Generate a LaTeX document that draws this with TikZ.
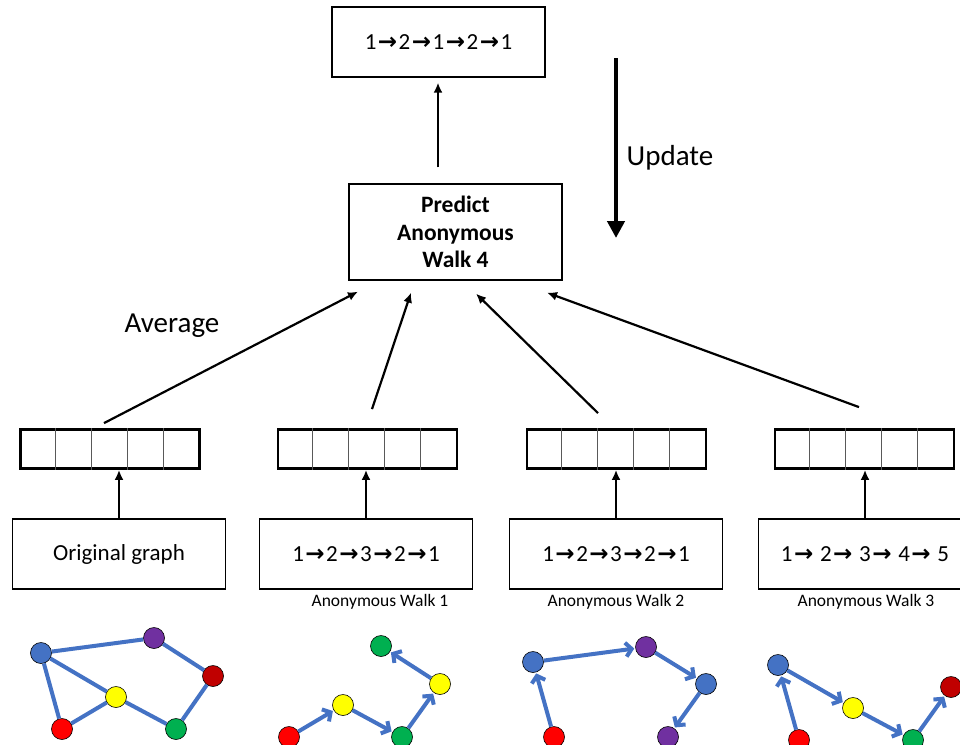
\documentclass[tikz,border=0pt]{standalone}
\usepackage{fontspec}
\setmainfont{Carlito}
\newfontfamily\arrowfont{DejaVu Sans}
\usetikzlibrary{arrows.meta}
\definecolor{nodeblue}{HTML}{4472C4}
\definecolor{nodepurple}{HTML}{7030A0}
\definecolor{nodedarkred}{HTML}{C00000}
\definecolor{nodeyellow}{HTML}{FFFF00}
\definecolor{nodered}{HTML}{FF0000}
\definecolor{nodegreen}{HTML}{00B050}
\newcommand\wto{{\kern1.5pt\arrowfont\bfseries →\kern1.5pt}}

\begin{document}
\begin{tikzpicture}[x=1pt, y=-1pt,
every edge/.style = {draw, -{Latex[length=10pt,width=9pt]}, line width=2.2pt, black},
       box/.style = {draw, line width=1.3pt, minimum width=213pt, minimum height=70pt,
                     inner sep=0pt, font=\fontsize{23}{28}\selectfont},
       vec/.style = {draw, line width=2.8pt, minimum width=179pt, minimum height=39pt, inner sep=0pt},
       lbl/.style = {font=\fontsize{17.5}{21}\selectfont},
       big/.style = {font=\fontsize{29}{34}\selectfont},
       dot/.style = {circle, draw, line width=0.6pt, minimum size=21pt, inner sep=0pt, fill=#1},
      link/.style = {line width=4pt, nodeblue},
      walk/.style = {link, -{Straight Barb[length=6pt,width=14pt]}, shorten >=1pt}
                    ]
\useasboundingbox (0,0) rectangle (960,744);
\clip (0,0) rectangle (960,744);

% prediction part
\node[box] (top) at (438.5,42) {1\wto2\wto1\wto2\wto1};
\node[box, minimum height=96pt, align=center, font=\fontsize{23.5}{27.5}\selectfont\bfseries]
      (pred) at (455.5,232) {Predict\\Anonymous\\Walk 4};
\coordinate (u1) at (616,58);
\coordinate (u2) at (616,238);
\draw[line width=4.5pt, -{Triangle[length=17pt,width=17pt]}] (u1) -- (u2);
\node[big] (upd) at (670,158) {Update};
\node[big] (avg) at (172,326) {Average};

% vectors
\foreach \i/\x in {1/110,2/367.5,3/616.5,4/864.5}
{
\node[vec] (vec\i) at (\x,449) {};
\foreach \k in {1,...,4}
   \draw[gray!70!black, line width=0.8pt] ([xshift=\k*36pt]vec\i.north west)
                                          -- ([xshift=\k*36pt]vec\i.south west);
}

% inputs
\node[box] (orig) at (119,554) {Original graph};
\node[box] (aw1) at (366,554) {1\wto2\wto3\wto2\wto1};
\node[box] (aw2) at (616,554) {1\wto2\wto3\wto2\wto1};
\node[box] (aw3) at (865,554) {1\wto\ 2\wto\ 3\wto\ 4\wto\ 5};
\node[lbl] (lab1) at (380,602) {Anonymous Walk 1};
\node[lbl] (lab2) at (616,602) {Anonymous Walk 2};
\node[lbl] (lab3) at (866,602) {Anonymous Walk 3};

\foreach \b/\v in {orig/vec1, aw1/vec2, aw2/vec3, aw3/vec4}
   \draw (\b.north) edge (\b.north |- \v.south);

\draw   ([shift={(-6,-5)}]vec1.north)    edge ([shift={(-97.5,11)}]pred.south)
        ([shift={(4.5,-19)}]vec2.north)  edge ([shift={(-44.5,12)}]pred.south)
        ([shift={(-18.5,-15)}]vec3.north) edge ([shift={(20.5,13)}]pred.south)
        ([shift={(-5.5,-21)}]vec4.north) edge ([shift={(91.5,12)}]pred.south)
        ([shift={(-17.5,-16)}]pred.north) edge ([shift={(-0.5,5)}]top.south);

% original graph
\node[dot=nodeblue]    (o1) at (41,653) {};
\node[dot=nodepurple]  (o2) at (154,638) {};
\node[dot=nodedarkred] (o3) at (213,676) {};
\node[dot=nodegreen]   (o4) at (176,729) {};
\node[dot=nodeyellow]  (o5) at (116,697) {};
\node[dot=nodered]     (o6) at (62,729) {};
\draw[link] (o1) -- (o2) -- (o3) -- (o4) -- (o5) -- (o6) -- (o1)
            (o1) -- (o5);

% anonymous walk 1
\node[dot=nodered]     (a1) at (289,737) {};
\node[dot=nodeyellow]  (a2) at (343,705) {};
\node[dot=nodegreen]   (a3) at (402,737) {};
\node[dot=nodeyellow]  (a4) at (440,684) {};
\node[dot=nodegreen]   (a5) at (381,646) {};

% anonymous walk 2
\node[dot=nodered]     (b1) at (554,737) {};
\node[dot=nodeblue]    (b2) at (533,662) {};
\node[dot=nodepurple]  (b3) at (646,647) {};
\node[dot=nodeblue]    (b4) at (706,684) {};
\node[dot=nodepurple]  (b5) at (668,737) {};

% anonymous walk 3
\node[dot=nodered]     (c1) at (799,740) {};
\node[dot=nodeblue]    (c2) at (778,665) {};
\node[dot=nodeyellow]  (c3) at (853,708) {};
\node[dot=nodegreen]   (c4) at (913,740) {};
\node[dot=nodedarkred] (c5) at (951,687) {};

\foreach \w in {a,b,c}
   \foreach \s/\t in {1/2,2/3,3/4,4/5}
      \draw[walk] (\w\s) -- (\w\t);
\end{tikzpicture}
\end{document}
